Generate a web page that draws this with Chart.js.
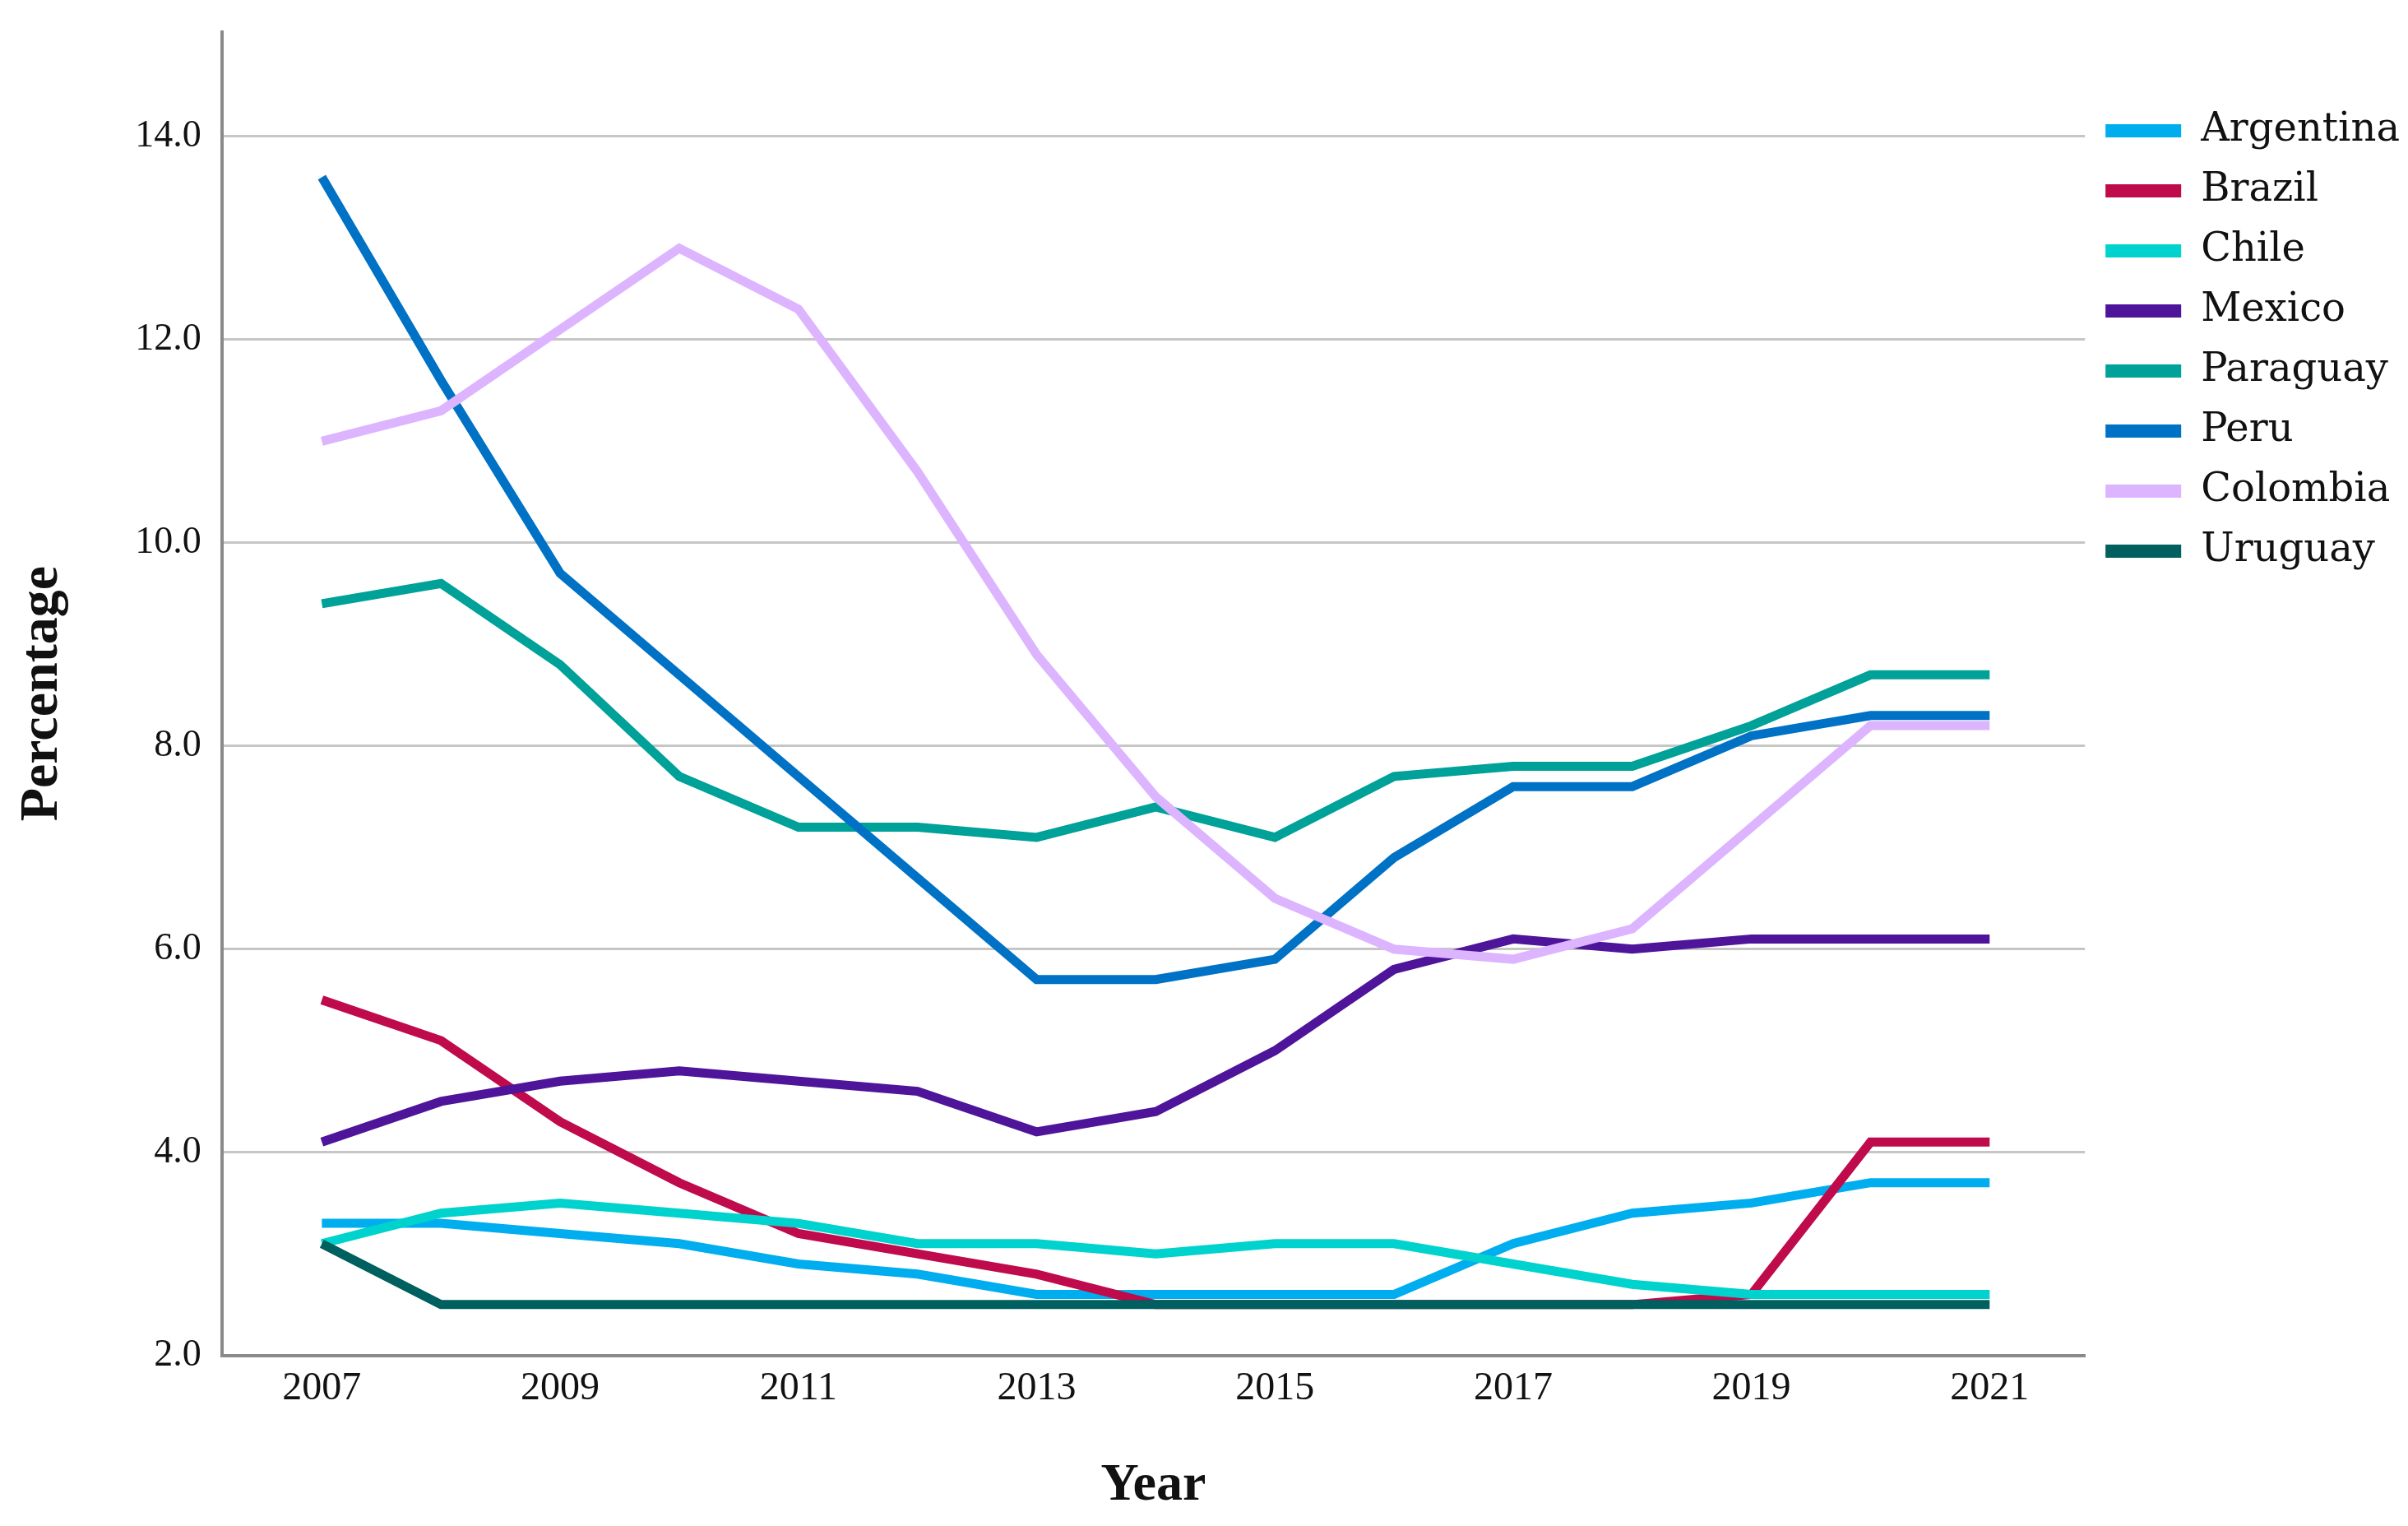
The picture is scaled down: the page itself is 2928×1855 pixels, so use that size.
<!DOCTYPE html>
<html>
<head>
<meta charset="utf-8">
<title>Percentage by year</title>
<script src="https://cdn.jsdelivr.net/npm/chart.js@4.4.1/dist/chart.umd.min.js"></script>
<style>
  html, body { margin: 0; padding: 0; background: #fff; }
  canvas { display: block; }
</style>
</head>
<body>
<canvas id="lineChart" width="2928" height="1855"></canvas>
<script>
const years = [2007, 2008, 2009, 2010, 2011, 2012, 2013, 2014, 2015, 2016, 2017, 2018, 2019, 2020, 2021];
const xTickYears = [2007, 2009, 2011, 2013, 2015, 2017, 2019, 2021];
const yTickValues = [2, 4, 6, 8, 10, 12, 14];

const countries = ['Argentina', 'Brazil', 'Chile', 'Mexico', 'Paraguay', 'Peru', 'Colombia', 'Uruguay'];

const argentina = [3.3, 3.3, 3.2, 3.1, 2.9, 2.8, 2.6, 2.6, 2.6, 2.6, 3.1, 3.4, 3.5, 3.7, 3.7];
const brazil    = [5.5, 5.1, 4.3, 3.7, 3.2, 3.0, 2.8, 2.5, 2.5, 2.5, 2.5, 2.5, 2.6, 4.1, 4.1];
const chile     = [3.1, 3.4, 3.5, 3.4, 3.3, 3.1, 3.1, 3.0, 3.1, 3.1, 2.9, 2.7, 2.6, 2.6, 2.6];
const mexico    = [4.1, 4.5, 4.7, 4.8, 4.7, 4.6, 4.2, 4.4, 5.0, 5.8, 6.1, 6.0, 6.1, 6.1, 6.1];
const paraguay  = [9.4, 9.6, 8.8, 7.7, 7.2, 7.2, 7.1, 7.4, 7.1, 7.7, 7.8, 7.8, 8.2, 8.7, 8.7];
const peru      = [13.6, 11.6, 9.7, 8.7, 7.7, 6.7, 5.7, 5.7, 5.9, 6.9, 7.6, 7.6, 8.1, 8.3, 8.3];
const colombia  = [11.0, 11.3, 12.1, 12.9, 12.3, 10.7, 8.9, 7.5, 6.5, 6.0, 5.9, 6.2, 7.2, 8.2, 8.2];
const uruguay   = [3.1, 2.5, 2.5, 2.5, 2.5, 2.5, 2.5, 2.5, 2.5, 2.5, 2.5, 2.5, 2.5, 2.5, 2.5];

document.addEventListener('DOMContentLoaded', function () {
    const series = [argentina, brazil, chile, mexico, paraguay, peru, colombia, uruguay];
    const lineColors = ['#00aeef', '#bf0a4c', '#00d3cd', '#4e1499', '#00a198', '#0072c6', '#dcb4ff', '#005f5f'];

    const datasets = countries.map(function (name, i) {
        return {
            label: name,
            data: years.map(function (yr, j) { return { x: yr, y: series[i][j] }; }),
            borderColor: lineColors[i],
            backgroundColor: lineColors[i],
            borderWidth: 11,
            pointRadius: 0,
            pointHoverRadius: 0,
            tension: 0,
            // later series sit on top, like the original
            order: countries.length - 1 - i
        };
    });

    const ctx = document.getElementById('lineChart').getContext('2d');
    new Chart(ctx, {
        type: 'line',
        data: { datasets: datasets },
        options: {
            responsive: false,
            devicePixelRatio: 1,
            animation: false,
            layout: { padding: { top: 22, right: 0, left: 0, bottom: 0 } },
            plugins: {
                tooltip: { enabled: false },
                legend: {
                    position: 'right',
                    align: 'start',
                    title: { display: true, text: ' ', font: { size: 10 }, padding: { top: 76, bottom: 0 } },
                    labels: {
                        boxWidth: 92,
                        boxHeight: 16,
                        padding: 25,
                        color: '#111',
                        font: { family: 'DejaVu Serif', size: 48 },
                        sort: function (a, b) { return a.datasetIndex - b.datasetIndex; },
                        generateLabels: function (chart) {
                            return Chart.defaults.plugins.legend.labels.generateLabels(chart).map(function (item) {
                                item.lineWidth = 0;
                                return item;
                            });
                        }
                    }
                }
            },
            scales: {
                x: {
                    type: 'linear',
                    min: 2006.16,
                    max: 2021.8,
                    afterBuildTicks: function (axis) {
                        axis.ticks = xTickYears.map(function (v) { return { value: v }; });
                    },
                    grid: { display: false, drawTicks: false },
                    border: { display: true, color: '#8a8a8a', width: 4 },
                    ticks: {
                        padding: 12,
                        color: '#111',
                        font: { family: 'Liberation Serif', size: 48 },
                        maxRotation: 0,
                        autoSkip: false,
                        callback: function (v) { return String(v); }
                    },
                    title: {
                        display: true,
                        text: 'Year',
                        color: '#111',
                        font: { family: 'Liberation Serif', size: 64, weight: 'bold' },
                        padding: { top: 39, bottom: 10 }
                    }
                },
                y: {
                    min: 2,
                    max: 15.03,
                    afterBuildTicks: function (axis) {
                        axis.ticks = yTickValues.map(function (v) { return { value: v }; });
                    },
                    grid: { color: '#c6c6c6', lineWidth: 3, drawTicks: false },
                    border: { display: true, color: '#8a8a8a', width: 4 },
                    ticks: {
                        padding: 25,
                        color: '#111',
                        font: { family: 'Liberation Serif', size: 46, lineHeight: 0.6 },
                        callback: function (v) { return Number(v).toFixed(1); }
                    },
                    title: {
                        display: true,
                        text: 'Percentage',
                        color: '#111',
                        font: { family: 'Liberation Serif', size: 66, weight: 'bold' },
                        padding: { top: 12, bottom: 48 }
                    }
                }
            }
        }
    });
});
</script>
</body>
</html>
